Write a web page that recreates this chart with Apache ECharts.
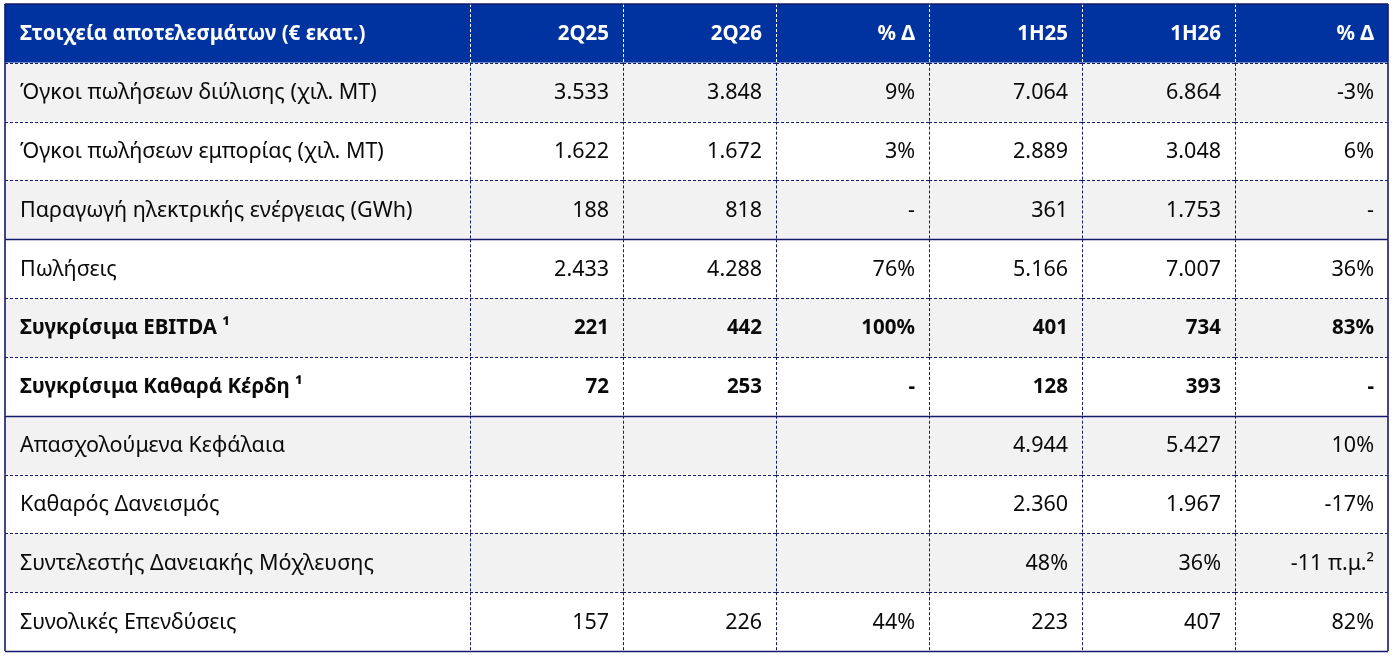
<!DOCTYPE html>
<html>
<head>
<meta charset="utf-8">
<title>Στοιχεία αποτελεσμάτων</title>
<script src="https://cdn.jsdelivr.net/npm/echarts@6.0.0/dist/echarts.min.js"></script>
<style>
    html, body { margin: 0; padding: 0; background: #fff; }
    #main { width: 1395px; height: 660px; }
</style>
</head>
<body>
<div id="main"></div>
<script>
    // table contents
    var headers = ['Στοιχεία αποτελεσμάτων (€ εκατ.)', '2Q25', '2Q26', '% Δ', '1H25', '1H26', '% Δ'];
    var rowLabels = [
        'Όγκοι πωλήσεων διύλισης (χιλ. MT)',
        'Όγκοι πωλήσεων εμπορίας (χιλ. MT)',
        'Παραγωγή ηλεκτρικής ενέργειας (GWh)',
        'Πωλήσεις',
        'Συγκρίσιμα EBITDA ¹',
        'Συγκρίσιμα Καθαρά Κέρδη ¹',
        'Απασχολούμενα Κεφάλαια',
        'Καθαρός Δανεισμός',
        'Συντελεστής Δανειακής Μόχλευσης',
        'Συνολικές Επενδύσεις'
    ];
    var val2Q25 = ['3.533', '1.622', '188', '2.433', '221', '72', '', '', '', '157'];
    var val2Q26 = ['3.848', '1.672', '818', '4.288', '442', '253', '', '', '', '226'];
    var deltaQ = ['9%', '3%', '-', '76%', '100%', '-', '', '', '', '44%'];
    var val1H25 = ['7.064', '2.889', '361', '5.166', '401', '128', '4.944', '2.360', '48%', '223'];
    var val1H26 = ['6.864', '3.048', '1.753', '7.007', '734', '393', '5.427', '1.967', '36%', '407'];
    var deltaH = ['-3%', '6%', '-', '36%', '83%', '-', '10%', '-17%', '-11 π.μ.²', '82%'];
    var boldRows = [4, 5];
    var groupEnds = [2, 5]; // solid line under these rows

    var columns = [rowLabels, val2Q25, val2Q26, deltaQ, val1H25, val1H26, deltaH];
    var rowCats = ['header'].concat(rowLabels.map(function (d, i) { return 'r' + i; }));

    // column edges in axis units (first column is ~3 times wider)
    var firstW = 3.04;
    function colStart(c) { return c === 0 ? 0 : firstW + (c - 1); }
    function colEnd(c) { return firstW + c; }

    var cells = [];
    for (var r = 0; r < rowCats.length; r++) {
        for (var c = 0; c < headers.length; c++) {
            cells.push([c, r]);
        }
    }

    var FONT = '"Noto Sans", "Open Sans", sans-serif';
    var NAVY = '#14196b';

    function renderItem(params, api) {
        var c = api.value(0), r = api.value(1);
        var x0 = api.coord([colStart(c), r])[0];
        var x1 = api.coord([colEnd(c), r])[0];
        var cy = api.coord([0, r])[1];
        var h = api.size([0, 1])[1];
        var y0 = cy - h / 2, y1 = cy + h / 2;
        var isHead = r === 0;
        var d = r - 1;
        var fill = isHead ? '#0033a0' : (d % 2 === 0 ? '#f2f2f2' : '#ffffff');
        var text = isHead ? headers[c] : columns[c][d];
        var bold = isHead || boldRows.indexOf(d) >= 0;
        var children = [{
            type: 'rect', z2: 0,
            shape: { x: x0, y: y0, width: x1 - x0, height: y1 - y0 },
            style: { fill: fill }
        }, {
            type: 'text', z2: 20,
            style: {
                text: text,
                x: c === 0 ? x0 + 15 : x1 - 14,
                y: cy + 1,
                align: c === 0 ? 'left' : 'right',
                verticalAlign: 'middle',
                fontFamily: FONT,
                fontSize: bold ? 20.5 : 21.5,
                fontWeight: bold ? 'bold' : 'normal',
                fill: isHead ? '#ffffff' : '#0a0a0a'
            }
        }];
        // inner vertical divider
        if (c < headers.length - 1) {
            children.push({
                type: 'line', z2: 10,
                shape: { x1: Math.round(x1) + 0.5, y1: y0, x2: Math.round(x1) + 0.5, y2: y1 },
                style: { stroke: isHead ? '#ffffff' : NAVY, lineWidth: 1, lineDash: [3, 2] }
            });
        } else {
            children.push({
                type: 'line', z2: 12,
                shape: { x1: x1, y1: y0, x2: x1, y2: y1 },
                style: { stroke: NAVY, lineWidth: 1.6 }
            });
        }
        if (c === 0) {
            children.push({
                type: 'line', z2: 12,
                shape: { x1: x0, y1: y0, x2: x0, y2: y1 },
                style: { stroke: NAVY, lineWidth: 1.6 }
            });
        }
        if (isHead) {
            children.push({
                type: 'line', z2: 12,
                shape: { x1: x0, y1: y0, x2: x1, y2: y0 },
                style: { stroke: NAVY, lineWidth: 1.6 }
            });
        }
        // bottom edge
        var solid = r === rowCats.length - 1 || groupEnds.indexOf(d) >= 0;
        var yb = Math.round(y1) + 0.5;
        children.push({
            type: 'line', z2: solid ? 12 : 10,
            shape: { x1: x0, y1: yb, x2: x1, y2: yb },
            style: solid ? { stroke: NAVY, lineWidth: 1.4 } : { stroke: NAVY, lineWidth: 1, lineDash: [3, 2] }
        });
        return { type: 'group', children: children };
    }

    var myChart = echarts.init(document.getElementById('main'));
    var option = {
        animation: false,
        grid: { left: 5, right: 7, top: 4, bottom: 9 },
        xAxis: { type: 'value', min: 0, max: colEnd(headers.length - 1), show: false },
        yAxis: { type: 'category', data: rowCats, inverse: true, show: false },
        series: [{
            type: 'custom',
            renderItem: renderItem,
            data: cells,
            silent: true
        }]
    };
    myChart.setOption(option);
</script>
</body>
</html>
